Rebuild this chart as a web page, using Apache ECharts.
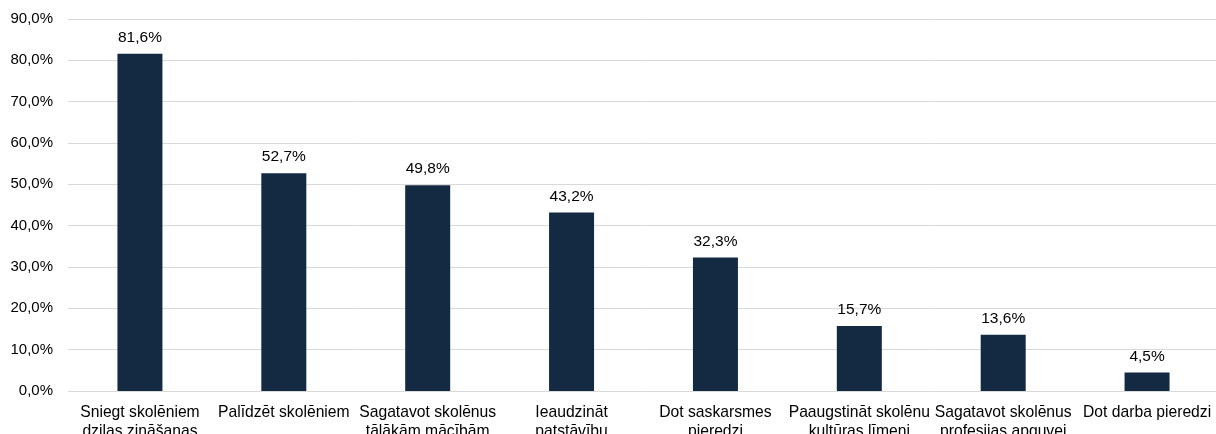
<!DOCTYPE html>
<html>
<head>
<meta charset="utf-8">
<script src="https://cdn.jsdelivr.net/npm/echarts@6/dist/echarts.min.js"></script>
<style>
html,body{margin:0;padding:0;background:#fff;overflow:hidden;}
#chart{width:1216px;height:434px;}
</style>
</head>
<body>
<div id="chart"></div>
<script>
const categories = [
  "Sniegt skolēniem\ndziļas zināšanas",
  "Palīdzēt skolēniem",
  "Sagatavot skolēnus\ntālākām mācībām",
  "Ieaudzināt\npatstāvību",
  "Dot saskarsmes\npieredzi",
  "Paaugstināt skolēnu\nkultūras līmeni",
  "Sagatavot skolēnus\nprofesijas apguvei",
  "Dot darba pieredzi"
];
const values = [81.6, 52.7, 49.8, 43.2, 32.3, 15.7, 13.6, 4.5];
const yTicks = { min: 0, max: 90, interval: 10 };

const fmt = v => Number(v).toFixed(1).replace('.', ',') + '%';
const font = 'Liberation Sans, Arial, sans-serif';

const chart = echarts.init(document.getElementById('chart'), null, { renderer: 'canvas' });
chart.setOption({
  animation: false,
  backgroundColor: '#ffffff',
  grid: { left: 68, right: -3, top: 19, bottom: 43, containLabel: false, outerBoundsMode: 'none' },
  xAxis: {
    type: 'category',
    data: categories,
    axisLine: { show: true, lineStyle: { color: '#d9d9d9', width: 1 } },
    axisTick: { show: false },
    axisLabel: {
      interval: 0,
      margin: 12,
      color: '#000',
      fontFamily: font,
      fontSize: 15.7,
      lineHeight: 19
    }
  },
  yAxis: {
    type: 'value',
    min: yTicks.min,
    max: yTicks.max,
    interval: yTicks.interval,
    axisLine: { show: false },
    axisTick: { show: false },
    splitLine: { show: true, lineStyle: { color: '#d9d9d9', width: 1 } },
    axisLabel: {
      formatter: fmt,
      color: '#000',
      fontFamily: font,
      fontSize: 15,
      margin: 15
    }
  },
  series: [{
    type: 'bar',
    data: values,
    barWidth: 45,
    itemStyle: { color: '#132a42' },
    label: {
      show: true,
      position: 'top',
      distance: 8,
      formatter: p => fmt(p.value),
      color: '#000',
      fontFamily: font,
      fontSize: 15.5
    }
  }]
});
</script>
</body>
</html>
